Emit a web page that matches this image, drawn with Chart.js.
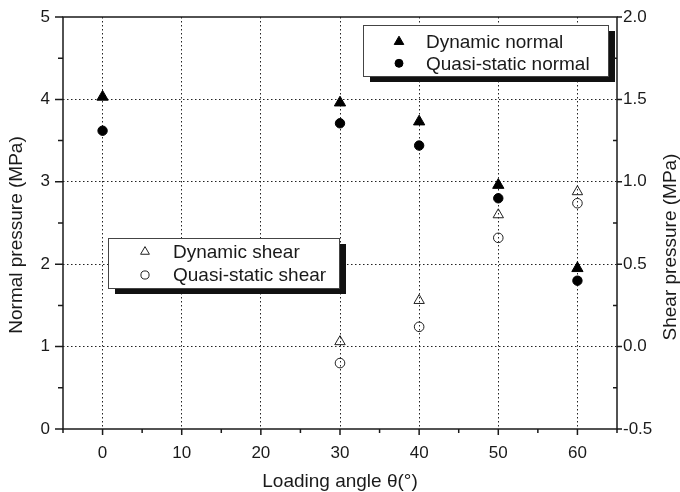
<!DOCTYPE html>
<html>
<head>
<meta charset="utf-8">
<script src="https://cdn.jsdelivr.net/npm/chart.js@4.4.1/dist/chart.umd.min.js"></script>
<style>
  html, body { margin: 0; padding: 0; background: #fff; }
</style>
</head>
<body>
<canvas id="pressureChart" width="680" height="492"></canvas>
<script>
// loading angle (deg) -> pressure (MPa)
const normalAngles = [0, 30, 40, 50, 60];
const dynamicNormal = [4.03, 3.96, 3.73, 2.96, 1.95];
const quasiStaticNormal = [3.62, 3.71, 3.44, 2.80, 1.80];

const shearAngles = [30, 40, 50, 60];
const dynamicShear = [0.03, 0.28, 0.80, 0.94];
const quasiStaticShear = [-0.10, 0.12, 0.66, 0.87];

// labelled ticks
const angleTicks = [0, 10, 20, 30, 40, 50, 60];
const normalTicks = [0, 1, 2, 3, 4, 5];
const shearTicks = ['-0.5', '0.0', '0.5', '1.0', '1.5', '2.0'];

const INK = '#1a1a1a';
const FONT = "'Liberation Sans', Arial, sans-serif";

function toPoints(xs, ys) {
  return xs.map((x, i) => ({ x: x, y: ys[i] }));
}

function near(a, b) {
  return Math.abs(a - b) < 1e-6;
}

function isAngleTick(v) {
  return angleTicks.some(t => near(t, v));
}
function isNormalTick(v) {
  return normalTicks.some(t => near(t, v));
}
function shearLabel(v) {
  const s = shearTicks.find(t => near(parseFloat(t), v));
  return s === undefined ? '' : s;
}

// fixed side axis width, no extra padding for the end labels
function sideAxisFit(s) {
  s.width = 63;
  s.paddingTop = 0;
  s.paddingBottom = 0;
}

// axis frame, major / minor tick marks and the two vertical axis titles
const frameTicks = {
  id: 'frameTicks',
  afterDraw(chart, args, opts) {
    const { ctx, chartArea: a, scales } = chart;
    ctx.save();
    ctx.strokeStyle = INK;
    ctx.lineWidth = 1.5;
    ctx.beginPath();
    scales.x.ticks.forEach(t => {
      const px = scales.x.getPixelForValue(t.value);
      const len = near(t.value % 10, 0) ? 6 : 4;
      ctx.moveTo(px, a.bottom);
      ctx.lineTo(px, a.bottom + len);
    });
    scales.y.ticks.forEach(t => {
      const py = scales.y.getPixelForValue(t.value);
      const len = isNormalTick(t.value) ? 8 : 5;
      ctx.moveTo(a.left, py);
      ctx.lineTo(a.left - len, py);
    });
    scales.y2.ticks.forEach(t => {
      const py = scales.y2.getPixelForValue(t.value);
      ctx.moveTo(a.right, py);
      ctx.lineTo(shearLabel(t.value) ? a.right + 5 : a.right - 4, py);
    });
    ctx.stroke();
    ctx.strokeRect(a.left, a.top, a.right - a.left, a.bottom - a.top);

    // both side titles read bottom to top
    ctx.fillStyle = INK;
    ctx.font = '19px ' + FONT;
    ctx.textAlign = 'center';
    ctx.textBaseline = 'middle';
    opts.titles.forEach(t => {
      ctx.save();
      ctx.translate(t.x, a.top + t.y);
      ctx.rotate(-Math.PI / 2);
      ctx.fillText(t.text, 0, 0);
      ctx.restore();
    });
    ctx.restore();
  }
};

// boxed legends with a drop shadow
const boxLegends = {
  id: 'boxLegends',
  afterDatasetsDraw(chart, args, opts) {
    const { ctx, chartArea: a } = chart;
    opts.boxes.forEach(box => {
      const x = a.left + box.x, y = a.top + box.y;
      ctx.save();
      ctx.fillStyle = '#111';
      ctx.fillRect(x + 7, y + 6, box.w, box.h);
      ctx.fillStyle = '#fff';
      ctx.fillRect(x, y, box.w, box.h);
      ctx.strokeStyle = '#444';
      ctx.lineWidth = 1;
      ctx.strokeRect(x + 0.5, y + 0.5, box.w, box.h);

      box.items.forEach((idx, row) => {
        const ds = chart.data.datasets[idx];
        const cy = y + box.rows[row];
        ctx.fillStyle = ds.backgroundColor;
        ctx.strokeStyle = ds.borderColor;
        ctx.lineWidth = ds.borderWidth;
        Chart.helpers.drawPoint(ctx, {
          pointStyle: ds.pointStyle,
          radius: ds.pointRadius * 0.85,
          rotation: 0,
          borderWidth: ds.borderWidth
        }, x + box.markX, cy);
        ctx.fillStyle = INK;
        ctx.font = '19px ' + FONT;
        ctx.textBaseline = 'middle';
        ctx.textAlign = 'left';
        ctx.fillText(ds.label, x + box.textX, cy + 1);
      });
      ctx.restore();
    });
  }
};

const ctx = document.getElementById('pressureChart').getContext('2d');

new Chart(ctx, {
  type: 'scatter',
  data: {
    datasets: [
      {
        label: 'Dynamic normal',
        data: toPoints(normalAngles, dynamicNormal),
        yAxisID: 'y',
        pointStyle: 'triangle',
        pointRadius: 6.5,
        backgroundColor: '#000',
        borderColor: '#000',
        borderWidth: 1
      },
      {
        label: 'Quasi-static normal',
        data: toPoints(normalAngles, quasiStaticNormal),
        yAxisID: 'y',
        pointStyle: 'circle',
        pointRadius: 4.7,
        backgroundColor: '#000',
        borderColor: '#000',
        borderWidth: 1
      },
      {
        label: 'Dynamic shear',
        data: toPoints(shearAngles, dynamicShear),
        yAxisID: 'y2',
        pointStyle: 'triangle',
        pointRadius: 6,
        backgroundColor: 'rgba(255,255,255,0)',
        borderColor: '#222',
        borderWidth: 1
      },
      {
        label: 'Quasi-static shear',
        data: toPoints(shearAngles, quasiStaticShear),
        yAxisID: 'y2',
        pointStyle: 'circle',
        pointRadius: 4.8,
        backgroundColor: 'rgba(255,255,255,0)',
        borderColor: '#222',
        borderWidth: 1
      }
    ]
  },
  options: {
    responsive: false,
    animation: false,
    layout: { padding: { top: 17, left: 0, right: 0, bottom: 0 } },
    plugins: {
      legend: { display: false },
      tooltip: { enabled: false },
      boxLegends: {
        boxes: [
          { x: 300, y: 8, w: 245, h: 51, markX: 36, textX: 63, rows: [16.7, 38.3], items: [0, 1] },
          { x: 45, y: 221, w: 231, h: 50, markX: 37, textX: 65, rows: [13.7, 37], items: [2, 3] }
        ]
      },
      frameTicks: {
        titles: [
          { text: 'Normal pressure (MPa)', x: 16.5, y: 218 },
          { text: 'Shear pressure (MPa)', x: 671, y: 230 }
        ]
      }
    },
    scales: {
      x: {
        type: 'linear',
        min: -5,
        max: 65,
        afterFit: s => { s.height = 63; },
        border: { display: false, dash: [1.5, 2.5] },
        grid: {
          drawTicks: false,
          lineWidth: 1,
          color: c => (isAngleTick(c.tick.value) ? '#222' : 'rgba(0,0,0,0)')
        },
        ticks: {
          stepSize: 5,
          autoSkip: false,
          maxRotation: 0,
          padding: 14,
          color: INK,
          font: { family: FONT, size: 17 },
          callback: v => (isAngleTick(v) ? String(v) : '')
        },
        title: {
          display: true,
          text: 'Loading angle \u03b8(\u00b0)',
          color: INK,
          font: { family: FONT, size: 19, lineHeight: 1 },
          padding: { top: 0, bottom: 1 }
        }
      },
      y: {
        position: 'left',
        min: 0,
        max: 5,
        afterFit: sideAxisFit,
        border: { display: false, dash: [1.5, 2.5] },
        grid: {
          drawTicks: false,
          lineWidth: 1,
          color: c => {
            const v = c.tick.value;
            return isNormalTick(v) && v > 0 && v < 5 ? '#222' : 'rgba(0,0,0,0)';
          }
        },
        ticks: {
          stepSize: 0.5,
          autoSkip: false,
          padding: 13,
          color: INK,
          font: { family: FONT, size: 17 },
          callback: v => (isNormalTick(v) ? String(Math.round(v)) : '')
        }
      },
      y2: {
        position: 'right',
        min: -0.5,
        max: 2.0,
        afterFit: sideAxisFit,
        border: { display: false },
        grid: { drawTicks: false, drawOnChartArea: false },
        ticks: {
          stepSize: 0.25,
          autoSkip: false,
          padding: 6,
          color: INK,
          font: { family: FONT, size: 17 },
          callback: v => shearLabel(v)
        }
      }
    }
  },
  plugins: [boxLegends, frameTicks]
});
</script>
</body>
</html>
